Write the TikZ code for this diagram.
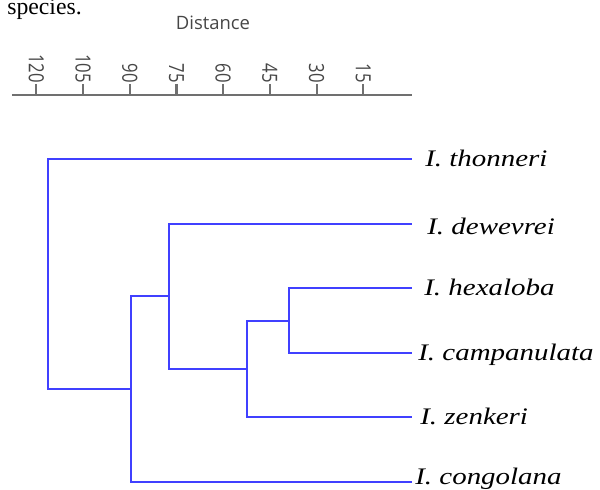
\documentclass[tikz,border=0pt]{standalone}
\usepackage{graphicx}
\usepackage{fontspec}
\setmainfont{Liberation Serif}
\newfontfamily\axisfont{Open Sans}
\definecolor{treeblue}{RGB}{64,64,255}
\definecolor{axisgray}{RGB}{112,112,112}
\definecolor{labelgray}{RGB}{70,70,70}
\newcommand{\taxon}[1]{\scalebox{1.22}[1]{#1}}
\tikzset{
  branch/.style={draw=treeblue, line width=1.1pt},
  axisline/.style={draw=axisgray, line width=1.2pt},
  ticklabel/.style={rotate=-90, anchor=east, text=labelgray, font=\axisfont\fontsize{9.5}{11}\selectfont},
  taxon/.style={anchor=base west, font=\fontsize{13.5}{15}\selectfont\itshape}
}
\begin{document}
\begin{tikzpicture}[x=0.02cm, y=0.02cm]
\tikzstyle{every node}+=[inner sep=0pt]
\useasboundingbox (0,0) rectangle (600,-490);
% line of text above the figure
\node [anchor=base west, text height=1ex, text depth=0.5ex, font=\fontsize{13.5}{15}\selectfont] (species) at (7,-14) {species.};
% distance axis
\node [text=labelgray, font=\axisfont\fontsize{10.5}{12}\selectfont] (distance) at (213,-23) {Distance};
\draw [axisline] (12,-95) -- (412,-95);
\foreach \d in {120,105,...,15}
{
  \draw [axisline] ({410-3.114*\d},-84) -- ({410-3.114*\d},-96);
  \node [ticklabel] (tick\d) at ({410-3.114*\d},-83) {\scalebox{1}[1.25]{\d}};
}
% leaves
\coordinate (lthon) at (412,-159);
\coordinate (ldew) at (412,-224);
\coordinate (lhex) at (412,-288);
\coordinate (lcamp) at (412,-353);
\coordinate (lzen) at (412,-417);
\coordinate (lcong) at (412,-482);
% joins
\coordinate (nhc) at (289,-321);
\coordinate (nhcz) at (247,-369);
\coordinate (nd) at (169,-296);
\coordinate (ncong) at (131,-389);
\coordinate (root) at (48,-274);
\draw [branch] (lhex) -| (nhc) |- (lcamp);
\draw [branch] (nhc) -| (nhcz) |- (lzen);
\draw [branch] (nhcz) -| (nd) |- (ldew);
\draw [branch] (nd) -| (ncong) |- (lcong);
\draw [branch] (ncong) -| (root) |- (lthon);
% species names
\node [taxon] (thonneri) at (425,-167) {\taxon{I. thonneri}};
\node [taxon] (dewevrei) at (427,-235) {\taxon{I. dewevrei}};
\node [taxon] (hexaloba) at (424,-296) {\taxon{I. hexaloba}};
\node [taxon] (campanulata) at (418,-361) {\taxon{I. campanulata}};
\node [taxon] (zenkeri) at (420,-425) {\taxon{I. zenkeri}};
\node [taxon] (congolana) at (415,-485) {\taxon{I. congolana}};
\end{tikzpicture}
\end{document}
